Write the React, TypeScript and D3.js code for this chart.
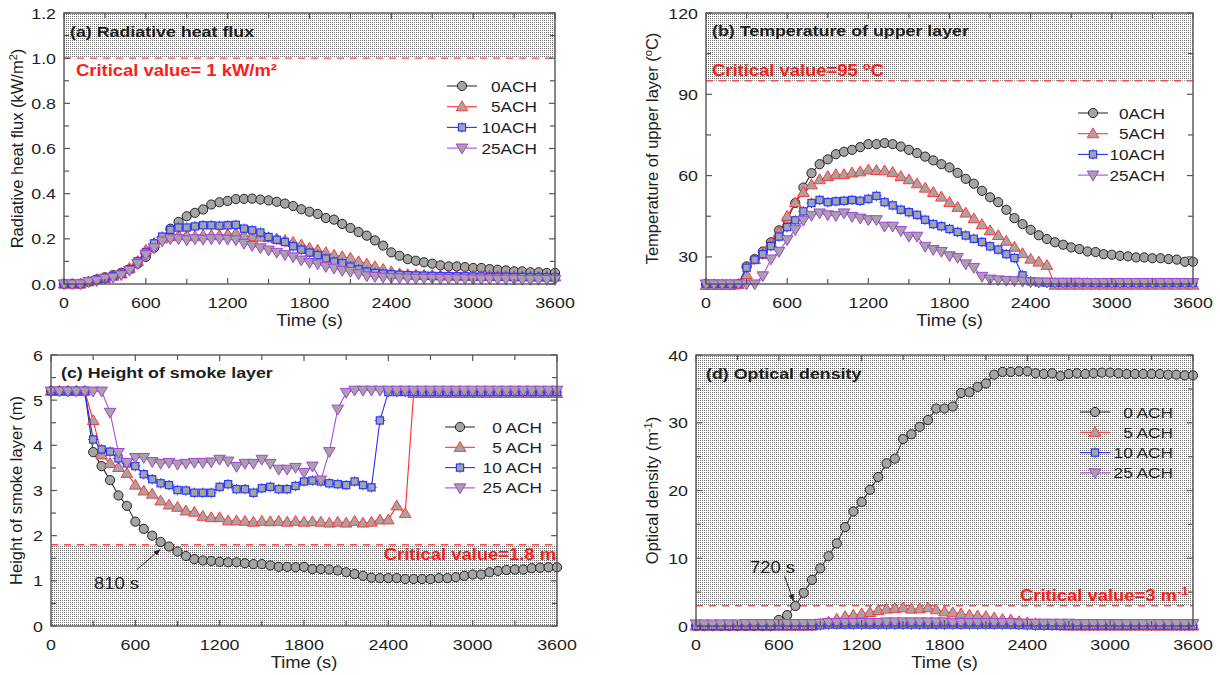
import React from 'react';
import * as d3 from 'd3';

// ---------------- data ----------------
const TIME = [0,60,120,180,240,300,360,420,480,540,600,660,720,780,840,900,960,1020,1080,1140,1200,1260,1320,1380,1440,1500,1560,1620,1680,1740,1800,1860,1920,1980,2040,2100,2160,2220,2280,2340,2400,2460,2520,2580,2640,2700,2760,2820,2880,2940,3000,3060,3120,3180,3240,3300,3360,3420,3480,3540,3600];

// (a) radiative heat flux (kW/m2)
const A0 = [0,0,0,0.01,0.02,0.03,0.04,0.05,0.065,0.09, 0.12,0.16,0.2,0.245,0.275,0.3,0.315,0.33,0.352,0.362, 0.368,0.376,0.377,0.378,0.374,0.37,0.364,0.356,0.345,0.331, 0.32,0.31,0.292,0.285,0.266,0.248,0.23,0.214,0.193,0.17, 0.14,0.125,0.11,0.103,0.096,0.09,0.083,0.078,0.078,0.075, 0.071,0.071,0.066,0.063,0.06,0.056,0.056,0.052,0.052,0.049, 0.049];
const A5 = [0,0,0,0.01,0.02,0.025,0.035,0.045,0.07,0.1, 0.15,0.18,0.2,0.21,0.215,0.215,0.21,0.215,0.215,0.215, 0.22,0.225,0.215,0.21,0.208,0.205,0.2,0.193,0.185,0.173, 0.159,0.15,0.139,0.128,0.121,0.115,0.099,0.089,0.077,0.065, 0.055,0.046,0.042,0.04,0.039,0.038,0.037,0.037,0.036,0.036, 0.035,0.035,0.035,0.034,0.034,0.033,0.033,0.033,0.032,0.032, 0.032];
const A10 = [0,0,0,0.01,0.02,0.025,0.035,0.045,0.065,0.1, 0.14,0.18,0.21,0.24,0.25,0.25,0.255,0.26,0.26,0.258, 0.26,0.262,0.245,0.238,0.228,0.208,0.196,0.186,0.167,0.152, 0.139,0.128,0.113,0.099,0.092,0.077,0.065,0.055,0.049,0.046, 0.043,0.041,0.039,0.038,0.037,0.036,0.035,0.035,0.034,0.034, 0.033,0.033,0.032,0.032,0.032,0.031,0.031,0.03,0.03,0.03, 0.03];
const A25 = [0,0,0,0.01,0.015,0.025,0.03,0.04,0.06,0.09, 0.13,0.16,0.19,0.2,0.2,0.195,0.2,0.198,0.2,0.2, 0.198,0.195,0.18,0.17,0.16,0.15,0.14,0.13,0.12,0.106, 0.095,0.089,0.077,0.07,0.06,0.055,0.045,0.036,0.033,0.03, 0.028,0.027,0.026,0.025,0.025,0.025,0.024,0.024,0.023,0.023, 0.022,0.022,0.022,0.021,0.021,0.021,0.02,0.02,0.02,0.02, 0.02];

// (b) temperature of upper layer (C)
const B0 = [20,19.8,19.6,19.6,20,26.5,29.2,32,35.4,39.8, 43.7,49.9,55.6,60.9,64.2,66,67.9,68.8,69.5,70.5, 71.6,71.6,72,71.6,70.7,69.5,68.3,67,65.6,64.2, 63,61,58.8,57,54.4,52,50.2,47.4,44.3,42.1, 40,38,36.6,35.4,34.5,33.5,32.9,32,31.8,31, 30.8,30.4,30.2,29.8,29.8,29.5,29.5,29.2,29,28.2, 28.2];
const B5 = [19.5,19.5,19.5,19.5,19.8,23.5,29,31,35,39, 45,50,53.8,56.6,58.5,59.7,60.4,60.4,61,61.4, 62.1,61.9,61.8,61.2,59.7,58.5,57,55.4,53.8,52.1, 50.1,48.3,46.2,44.1,41.9,39.7,37.9,35.8,33.6,31.2, 29.2,28.1,26.9,19.6,19.6,19.6,19.6,19.6,19.6,19.6, 19.6,19.6,19.6,19.6,19.6,19.6,19.6,19.6,19.6,19.6, 19.6];
const B10 = [20,20,20,20,20,26,29,31,34,37.5, 41,43.5,46.8,49.9,51,50.2,50.5,50.7,51,50.7, 51.4,52.5,50.2,49,47.4,46.5,45.5,43.7,42.1,41.3, 40.3,39.2,37.9,36.7,35.5,33.9,32.7,31,29.6,23.2, 21,20.6,20.5,20.5,20.5,20.5,20.5,20.5,20.4,20.4, 20.4,20.4,20.4,20.4,20.4,20.4,20.4,20.4,20.4,20.4, 20.4];
const B25 = [20,20,20,20,20,20,20,23,29.2,32, 36.3,40,43.5,45.3,46.2,45.5,45.2,46.2,44.9,44.3, 43.7,43.7,41.3,41.3,39.7,37.6,37.6,33.9,32.7,32, 30.4,29.8,27.4,26.1,22.8,21.8,21.5,21.3,21.2,21, 20.8,20.7,20.7,20.6,20.6,20.6,20.6,20.5,20.5,20.5, 20.5,20.5,20.5,20.5,20.5,20.5,20.5,20.5,20.5,20.5, 20.5];

// (c) height of smoke layer (m)
const C0 = [5.2,5.2,5.2,5.2,5.2,3.85,3.54,3.23,2.89,2.66, 2.31,2.15,2.0,1.86,1.76,1.65,1.55,1.48,1.45,1.44, 1.42,1.41,1.41,1.39,1.37,1.37,1.34,1.31,1.31,1.3, 1.31,1.26,1.26,1.25,1.23,1.19,1.15,1.11,1.07,1.06, 1.06,1.06,1.04,1.04,1.04,1.04,1.06,1.06,1.08,1.11, 1.14,1.14,1.19,1.22,1.24,1.25,1.25,1.28,1.29,1.3, 1.3];
const C5 = [5.2,5.2,5.2,5.2,5.2,4.55,3.79,3.6,3.51,3.38, 3.12,2.99,2.92,2.77,2.68,2.63,2.55,2.52,2.43,2.4, 2.4,2.33,2.33,2.32,2.3,2.32,2.31,2.32,2.3,2.32, 2.3,2.31,2.3,2.28,2.3,2.28,2.32,2.28,2.3,2.35, 2.35,2.66,2.49,5.15,5.15,5.15,5.15,5.15,5.15,5.15, 5.15,5.15,5.15,5.15,5.15,5.15,5.15,5.15,5.15,5.15, 5.15];
const C10 = [5.2,5.2,5.2,5.2,5.2,4.13,3.91,3.86,3.71,3.6, 3.54,3.36,3.25,3.16,3.12,3.01,3.0,2.95,2.95,2.95, 3.08,3.14,3.03,3.03,2.95,3.05,3.08,3.03,3.03,3.1, 3.2,3.22,3.2,3.16,3.14,3.12,3.2,3.12,3.07,4.55, 5.18,5.18,5.18,5.18,5.18,5.18,5.18,5.18,5.18,5.18, 5.18,5.18,5.18,5.18,5.18,5.18,5.18,5.18,5.18,5.18, 5.18];
const C25 = [5.2,5.2,5.2,5.2,5.2,5.2,5.2,4.73,3.84,3.62, 3.73,3.73,3.64,3.6,3.62,3.58,3.6,3.62,3.62,3.63, 3.69,3.65,3.53,3.6,3.6,3.69,3.6,3.47,3.47,3.51, 3.4,3.54,3.23,3.86,4.8,5.17,5.22,5.22,5.22,5.22, 5.22,5.22,5.22,5.22,5.22,5.22,5.22,5.22,5.22,5.22, 5.22,5.22,5.22,5.22,5.22,5.22,5.22,5.22,5.22,5.22, 5.22];

// (d) optical density (1/m)
const D0 = [0,0,0,0,0,0,0,0,0,0, 0.9,1.6,2.95,4.9,6.8,8.5,10.3,12.2,14.6,16.9, 18.3,20.1,22,24,24.7,27.6,28.3,29.4,30.4,32.1, 32.1,32.4,34.4,34.5,35.3,35.8,37.1,37.5,37.5,37.6, 37.6,37.3,37.2,37.3,36.9,37.2,37.3,37.2,37.3,37.4, 37.4,37.3,37.2,37.2,37.2,37.2,37.2,37.1,37.1,37.0, 37.0];
const D5 = [0,0,0,0,0,0,0,0,0,0, 0,0,0,0,0,0.3,0.6,1.0,1.4,1.6, 1.8,2.0,2.3,2.5,2.6,2.7,2.5,2.55,2.7,2.4, 2.1,1.97,1.8,1.6,1.5,1.4,1.2,1.0,0.9,0.65, 0.5,0.35,0.2,0.1,0.05,0,0,0,0,0, 0,0,0,0,0,0,0,0,0,0, 0];
const D10 = [0,0,0,0,0,0,0,0,0,0, 0,0,0,0,0,0.1,0.2,0.2,0.2,0.2, 0.2,0.2,0.2,0.2,0.2,0.2,0.2,0.2,0.2,0.2, 0.2,0.2,0.2,0.2,0.2,0.2,0.2,0.2,0.2,0.15, 0.1,0.05,0.05,0.05,0.05,0.05,0.05,0.05,0.05,0.05, 0.05,0.05,0.05,0.05,0.05,0.05,0.05,0.05,0.05,0.05, 0.05];
const D25 = [0.3,0.3,0.3,0.3,0.3,0.3,0.35,0.35,0.35,0.35, 0.35,0.35,0.35,0.35,0.35,0.4,0.5,0.5,0.5,0.5, 0.5,0.5,0.5,0.6,0.6,0.6,0.6,0.6,0.6,0.6, 0.6,0.5,0.5,0.5,0.5,0.5,0.5,0.5,0.5,0.4, 0.4,0.4,0.4,0.4,0.4,0.4,0.35,0.35,0.35,0.35, 0.35,0.35,0.35,0.35,0.35,0.35,0.35,0.35,0.35,0.35, 0.35];

// ticks
const X_MAJOR = [0, 600, 1200, 1800, 2400, 3000, 3600];
const X_MINOR = [300, 900, 1500, 2100, 2700, 3300];
const YA_MAJOR = [0, 0.2, 0.4, 0.6, 0.8, 1.0, 1.2];
const YA_MINOR = [0.1, 0.3, 0.5, 0.7, 0.9, 1.1];
const YB_MAJOR = [30, 60, 90, 120];
const YB_MINOR = [45, 75, 105];
const YC_MAJOR = [0, 1, 2, 3, 4, 5, 6];
const YC_MINOR = [0.5, 1.5, 2.5, 3.5, 4.5, 5.5];
const YD_MAJOR = [0, 10, 20, 30, 40];
const YD_MINOR = [5, 15, 25, 35];

const LABELS_AB = ['0ACH', '5ACH', '10ACH', '25ACH'];
const LABELS_CD = ['0 ACH', '5 ACH', '10 ACH', '25 ACH'];

// ---------------- style ----------------
const FONT = '"Liberation Sans", Arial, Helvetica, sans-serif';
const SX = 1.15;
const LINE_COL = ['#333333', '#ff3030', '#2233ff', '#b048e0'];
const MARK_COL = ['#222222', '#ff3a3a', '#2a3cff', '#a640dc'];
const MFILL = '#a4a4a4';
const TXT = '#1e1e1e';

function T({ x, y, anchor = 'start', size = 16, weight = 'normal', fill = TXT, sx = SX, children }: any) {
  return (
    <g transform={`translate(${x},${y}) scale(${sx},1)`}>
      <text x={0} y={0} textAnchor={anchor} fontSize={size} fontWeight={weight} fill={fill} fontFamily={FONT}>
        {children}
      </text>
    </g>
  );
}

function Marker({ kind, x, y }: any) {
  const st = MARK_COL[kind];
  if (kind === 0) return <circle cx={x} cy={y} r={4.6} fill={MFILL} stroke={st} strokeWidth={1} />;
  if (kind === 1) {
    const s = 5.8;
    return <path d={`M${x},${y - s}L${x + s},${y + s * 0.7}L${x - s},${y + s * 0.7}Z`} fill={MFILL} stroke={st} strokeWidth={1} />;
  }
  if (kind === 2) {
    return (
      <g>
        <rect x={x - 3.6} y={y - 3.6} width={7.2} height={7.2} fill={MFILL} stroke={st} strokeWidth={1.2} />
        <path d={`M${x},${y - 5.2}V${y - 3.6}M${x},${y + 3.6}V${y + 5.2}M${x - 5.2},${y}H${x - 3.6}M${x + 3.6},${y}H${x + 5.2}`} stroke={st} strokeWidth={1} />
      </g>
    );
  }
  const s = 5.8;
  return <path d={`M${x},${y + s}L${x + s},${y - s * 0.7}L${x - s},${y - s * 0.7}Z`} fill={MFILL} stroke={st} strokeWidth={1} />;
}

const PANELS: any[] = [
  {
    key: 'a', x0: 64, x1: 555, y0: 13, y1: 284, yDom: [0, 1.2], yMajor: YA_MAJOR, yMinor: YA_MINOR,
    fmt: (d: number) => d.toFixed(1), series: [A0, A5, A10, A25], labels: LABELS_AB,
    shade: [1.0, 1.2], crit: 1.0, yTitleX: 23, legend: { x: 462, tx: 537, y: 86, dy: 20.7 },
    title: '(a) Radiative heat flux', titlePos: [70, 36.5],
    yTitle: <>Radiative heat flux (kW/m<tspan dy={-6} fontSize={11}>2</tspan><tspan dy={6}>)</tspan></>,
    critText: <>Critical value= 1 kW/m²</>, critPos: [76, 76], critAnchor: 'start',
  },
  {
    key: 'b', x0: 706, x1: 1193, y0: 13, y1: 284, yDom: [20, 120], yMajor: YB_MAJOR, yMinor: YB_MINOR,
    fmt: (d: number) => String(d), series: [B0, B5, B10, B25], labels: LABELS_AB,
    shade: [95, 120], crit: 95, yTitleX: 658, legend: { x: 1093, tx: 1165, y: 113, dy: 20.7 },
    title: '(b) Temperature of upper layer', titlePos: [712, 36],
    yTitle: <>Temperature of upper layer (<tspan dy={-6} fontSize={11}>o</tspan><tspan dy={6}>C)</tspan></>,
    critText: <>Critical value=95 <tspan dy={-6} fontSize={11}>o</tspan><tspan dy={6}>C</tspan></>, critPos: [712, 76], critAnchor: 'start',
  },
  {
    key: 'c', x0: 51, x1: 557, y0: 355, y1: 626, yDom: [0, 6], yMajor: YC_MAJOR, yMinor: YC_MINOR,
    fmt: (d: number) => String(d), series: [C0, C5, C10, C25], labels: LABELS_CD,
    shade: [0, 1.8], crit: 1.8, yTitleX: 22, legend: { x: 460, tx: 542, y: 427, dy: 20.3 },
    title: '(c) Height of smoke layer', titlePos: [61, 378],
    yTitle: <>Height of smoke layer (m)</>,
    critText: <>Critical value=1.8 m</>, critPos: [556, 560], critAnchor: 'end',
    note: { text: '810 s', t: 810, v: 1.8, tx: 94, ty: 589, ax0: -28, ay0: 25, ax1: -5, ay1: 5 },
  },
  {
    key: 'd', x0: 696, x1: 1193, y0: 355, y1: 626, yDom: [0, 40], yMajor: YD_MAJOR, yMinor: YD_MINOR,
    fmt: (d: number) => String(d), series: [D0, D5, D10, D25], labels: LABELS_CD,
    shade: [3, 40], crit: 3, yTitleX: 658, legend: { x: 1095, tx: 1173, y: 412, dy: 20.3 },
    title: '(d) Optical density', titlePos: [706, 379],
    yTitle: <>Optical density (m<tspan dy={-6} fontSize={11}>-1</tspan><tspan dy={6}>)</tspan></>,
    critText: <>Critical value=3 m<tspan dy={-6} fontSize={11}>-1</tspan></>, critPos: [1020, 601], critAnchor: 'start',
    note: { text: '720 s', t: 720, v: 3, tx: 750, ty: 573, ax0: -11, ay0: -30, ax1: -2, ay1: -5 },
  },
];

function Panel({ p }: any) {
  const x = d3.scaleLinear().domain([0, 3600]).range([p.x0, p.x1]);
  const y = d3.scaleLinear().domain(p.yDom).range([p.y1, p.y0]);
  const line = d3.line<number>().x((_, i) => x(TIME[i])).y((d) => y(d));
  const ML = 6, mL = 5;
  const ticks: any[] = [];
  X_MAJOR.concat(X_MINOR).forEach((t, i) => {
    const L = i < X_MAJOR.length ? ML : mL;
    ticks.push(<line key={'xb' + i} x1={x(t)} x2={x(t)} y1={p.y1} y2={p.y1 - L} />);
    ticks.push(<line key={'xt' + i} x1={x(t)} x2={x(t)} y1={p.y0} y2={p.y0 + L} />);
  });
  p.yMajor.concat(p.yMinor).forEach((v: number, i: number) => {
    const L = i < p.yMajor.length ? ML : mL;
    ticks.push(<line key={'yl' + i} x1={p.x0} x2={p.x0 + L} y1={y(v)} y2={y(v)} />);
    ticks.push(<line key={'yr' + i} x1={p.x1} x2={p.x1 - L} y1={y(v)} y2={y(v)} />);
  });
  const cy = (p.y0 + p.y1) / 2;
  const cx = (p.x0 + p.x1) / 2;
  const note = p.note;
  let noteEl = null;
  if (note) {
    const px = x(note.t), py = y(note.v);
    noteEl = (
      <g>
        <line x1={px + note.ax0} y1={py + note.ay0} x2={px + note.ax1} y2={py + note.ay1} stroke="#222" strokeWidth={1} markerEnd="url(#arrow)" />
        <T x={note.tx} y={note.ty} size={16}>{note.text}</T>
      </g>
    );
  }
  return (
    <g>
      <rect x={p.x0} width={p.x1 - p.x0} y={y(p.shade[1])} height={y(p.shade[0]) - y(p.shade[1])} fill="url(#dots)" />
      <line x1={p.x0} x2={p.x1} y1={y(p.crit)} y2={y(p.crit)} stroke="#ff4a4a" strokeWidth={1.4} strokeDasharray="7,6" />
      {p.series.map((s: number[], k: number) => (
        <g key={k}>
          <path d={line(s) || ''} fill="none" stroke={LINE_COL[k]} strokeWidth={1.1} />
          {s.map((v, i) => <Marker key={i} kind={k} x={x(TIME[i])} y={y(v)} />)}
        </g>
      ))}
      <rect x={p.x0} y={p.y0} width={p.x1 - p.x0} height={p.y1 - p.y0} fill="none" stroke="#555" strokeWidth={1.4} />
      <g stroke="#555" strokeWidth={1.2}>{ticks}</g>
      {X_MAJOR.map((t) => (
        <T key={t} x={x(t)} y={p.y1 + 24} anchor="middle" size={15.5}>{t}</T>
      ))}
      {p.yMajor.map((v: number) => (
        <T key={v} x={p.x0 - 8} y={y(v) + 5.5} anchor="end" size={15.5}>{p.fmt(v)}</T>
      ))}
      <T x={cx} y={p.y1 + 42} anchor="middle" size={16}>Time (s)</T>
      <text transform={`translate(${p.yTitleX},${cy}) rotate(-90)`} textAnchor="middle" fontSize={16.5} fill={TXT} fontFamily={FONT}>{p.yTitle}</text>
      <T x={p.titlePos[0]} y={p.titlePos[1]} size={15.5} weight="bold">{p.title}</T>
      <T x={p.critPos[0]} y={p.critPos[1]} size={16} weight="bold" fill="#ff1a1a" anchor={p.critAnchor}>{p.critText}</T>
      {p.labels.map((lab: string, k: number) => {
        const ly = p.legend.y + k * p.legend.dy;
        return (
          <g key={lab}>
            <line x1={p.legend.x - 15} x2={p.legend.x + 15} y1={ly} y2={ly} stroke={LINE_COL[k]} strokeWidth={1.1} />
            <Marker kind={k} x={p.legend.x} y={ly} />
            <T x={p.legend.tx} y={ly + 5.5} anchor="end" size={15}>{lab}</T>
          </g>
        );
      })}
      {noteEl}
    </g>
  );
}

export default function App() {
  return (
    <svg width={1220} height={675} style={{ position: 'absolute', left: 0, top: 0, background: '#fff' }}>
      <defs>
        <pattern id="dots" width={2} height={2} patternUnits="userSpaceOnUse">
          <rect width={2} height={2} fill="#ffffff" />
          <rect width={1} height={1} fill="#6e6e6e" />
        </pattern>
        <marker id="arrow" viewBox="0 0 10 10" refX={9} refY={5} markerWidth={7} markerHeight={7} orient="auto">
          <path d="M0,1L10,5L0,9Z" fill="#222" />
        </marker>
      </defs>
      <rect width={1220} height={675} fill="#fff" />
      {PANELS.map((p) => <Panel key={p.key} p={p} />)}
    </svg>
  );
}
